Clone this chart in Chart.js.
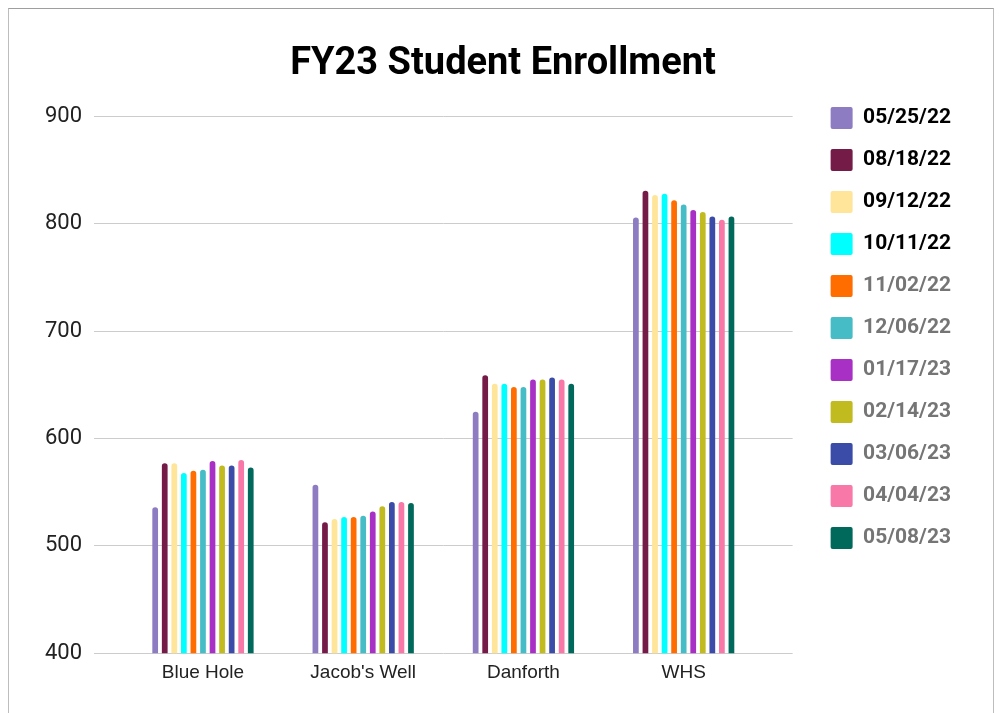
<!DOCTYPE html>
<html>
<head>
<meta charset="utf-8">
<script src="https://cdn.jsdelivr.net/npm/chart.js@4"></script>
<style>
  html, body { margin: 0; padding: 0; background: #fff; }
  #wrap { position: relative; width: 999px; height: 713px; overflow: hidden; }
  #frame { position: absolute; left: 8px; top: 8px; width: 984px; height: 760px; border: 1px solid #bdbdbd; border-top-color: #9e9e9e; pointer-events: none; }
</style>
</head>
<body>
<div id="wrap">
  <canvas id="chart" width="999" height="713"></canvas>
  <div id="frame"></div>
</div>
<script>
// categories
var schools = ['Blue Hole', "Jacob's Well", 'Danforth', 'WHS'];
// count dates (one series each)
var dates = ['05/25/22', '08/18/22', '09/12/22', '10/11/22', '11/02/22', '12/06/22',
             '01/17/23', '02/14/23', '03/06/23', '04/04/23', '05/08/23'];

// enrollment per school, one value per date
var blueHole   = [536, 577, 577, 568, 570, 571, 579, 575, 575, 580, 573];
var jacobsWell = [557, 522, 525, 527, 527, 528, 532, 537, 541, 541, 540];
var danforth   = [625, 659, 651, 651, 648, 648, 655, 655, 657, 655, 651];
var whs        = [806, 831, 827, 828, 822, 818, 813, 811, 807, 804, 807];

var yTicks = [400, 500, 600, 700, 800, 900];

var colors = ['#8e7cc3', '#741b47', '#ffe599', '#00ffff', '#ff6d01', '#46bdc6',
              '#a830c5', '#c1bb20', '#3a4ba8', '#f878a8', '#00695c'];
var legendTextColors = ['#000', '#000', '#000', '#000', '#757575', '#757575',
                        '#757575', '#757575', '#757575', '#757575', '#757575'];

var bySchool = [blueHole, jacobsWell, danforth, whs];

var datasets = dates.map(function(d, i) {
  return {
    label: d,
    data: bySchool.map(function(vals, s) { return { x: s, y: vals[i] }; }),
    backgroundColor: colors[i],
    borderWidth: 0,
    borderRadius: 3,
    categoryPercentage: 0.656,
    barPercentage: 0.6
  };
});

var ctx = document.getElementById('chart').getContext('2d');
new Chart(ctx, {
  type: 'bar',
  data: { datasets: datasets },
  options: {
    responsive: false,
    animation: false,
    events: [],
    layout: { padding: { left: 45, right: 38, top: 0, bottom: 21 } },
    plugins: {
      title: {
        display: true,
        text: 'FY23 Student Enrollment',
        color: '#000',
        font: { family: 'Roboto', size: 38, weight: 'bold' },
        padding: { top: 42, bottom: 29 }
      },
      legend: {
        position: 'right',
        align: 'start',
        title: {
          display: true,
          text: ' ',
          font: { size: 10, lineHeight: 1 },
          padding: { top: 77, bottom: 0 }
        },
        labels: {
          boxWidth: 22,
          boxHeight: 22,
          padding: 20,
          useBorderRadius: true,
          borderRadius: 2,
          font: { family: 'Roboto', size: 21, weight: 'bold' },
          generateLabels: function(chart) {
            var items = Chart.defaults.plugins.legend.labels.generateLabels(chart);
            items.forEach(function(it, i) {
              it.fontColor = legendTextColors[i];
              it.lineWidth = 0;
            });
            return items;
          }
        }
      },
      tooltip: { enabled: false }
    },
    scales: {
      x: {
        type: 'linear',
        offset: false,
        min: -0.68,
        max: 3.68,
        grid: { display: false, drawTicks: false },
        border: { display: false },
        afterBuildTicks: function(scale) {
          scale.ticks = schools.map(function(s, i) { return { value: i }; });
        },
        ticks: {
          padding: 8,
          color: '#222',
          font: { family: 'Liberation Sans', size: 19 },
          callback: function(v) { return schools[v]; }
        }
      },
      y: {
        min: 400,
        max: 900,
        grid: { color: '#cccccc', lineWidth: 1, drawTicks: false },
        border: { display: false },
        afterBuildTicks: function(scale) {
          scale.ticks = yTicks.map(function(v) { return { value: v }; });
        },
        afterFit: function(scale) { scale.width = 49; },
        ticks: {
          padding: 12,
          color: '#222',
          font: { family: 'Roboto', size: 22 }
        }
      },
      gap: {
        type: 'linear',
        position: 'right',
        display: true,
        grid: { display: false, drawTicks: false },
        border: { display: false },
        ticks: { display: false },
        afterFit: function(scale) { scale.width = 18; }
      }
    }
  }
});
</script>
</body>
</html>
